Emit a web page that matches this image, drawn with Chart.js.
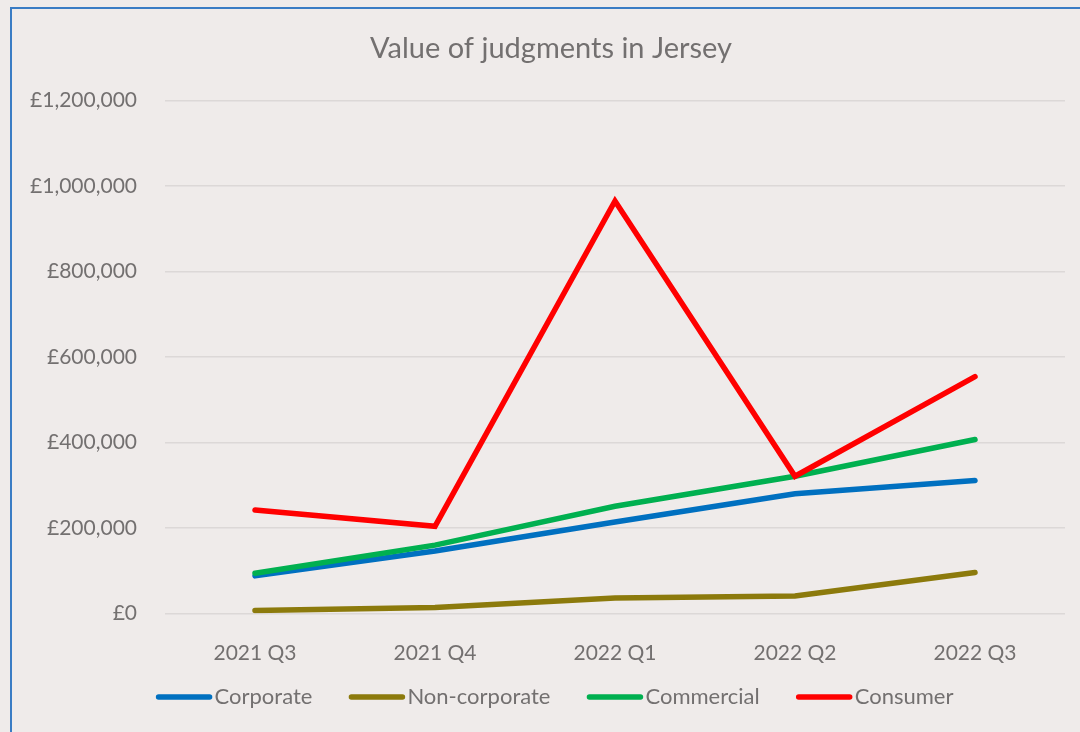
<!DOCTYPE html>
<html>
<head>
<meta charset="utf-8">
<script src="https://cdn.jsdelivr.net/npm/chart.js@4"></script>
<style>
  html, body { margin: 0; padding: 0; background: #efebea; overflow: hidden; }
  #frame { position: absolute; left: 10px; top: 7px; width: 1200px; height: 900px; border: 2px solid #3a7cc4; }
  #wrap { position: absolute; left: 0; top: 0; width: 1106px; height: 732px; }
</style>
</head>
<body>
<div id="frame"></div>
<div id="wrap"><canvas id="chart" width="1106" height="732"></canvas></div>
<script>
var quarters = ["2021 Q3", "2021 Q4", "2022 Q1", "2022 Q2", "2022 Q3"];
var corporate = [88000, 146000, 214000, 280000, 311000];
var nonCorporate = [7000, 14000, 36000, 41000, 96000];
var commercial = [94000, 160000, 251000, 321000, 407000];
var consumer = [242000, 204000, 965000, 321000, 554000];
var yTicks = [0, 200000, 400000, 600000, 800000, 1000000, 1200000];

var textColor = "#737070";
var fontName = "Lato";

// legend drawn by hand so the line samples sit close to their labels
var lineLegend = {
    id: "lineLegend",
    afterDraw: function (chart) {
        var c = chart.ctx;
        var sets = chart.data.datasets;
        c.save();
        c.font = "22px " + fontName;
        var sample = 55, gap = 3, between = 37;
        var total = 0;
        sets.forEach(function (ds, i) {
            total += sample + gap + c.measureText(ds.label).width;
            if (i < sets.length - 1) total += between;
        });
        var x = 555 - total / 2, y = 697;
        sets.forEach(function (ds) {
            c.strokeStyle = ds.borderColor;
            c.lineWidth = 5.5;
            c.lineCap = "round";
            c.beginPath();
            c.moveTo(x + 2, y);
            c.lineTo(x + sample - 2, y);
            c.stroke();
            x += sample + gap;
            c.fillStyle = textColor;
            c.textBaseline = "middle";
            c.textAlign = "left";
            c.fillText(ds.label, x, y);
            x += c.measureText(ds.label).width + between;
        });
        c.restore();
    }
};

function series(label, data, color, order) {
    return {
        label: label,
        data: data,
        borderColor: color,
        backgroundColor: color,
        borderWidth: 5.5,
        borderCapStyle: "round",
        pointRadius: 0,
        tension: 0,
        order: order
    };
}

new Chart(document.getElementById("chart").getContext("2d"), {
    type: "line",
    data: {
        labels: quarters,
        datasets: [
            series("Corporate", corporate, "#0070c0", 4),
            series("Non-corporate", nonCorporate, "#8c7a0c", 3),
            series("Commercial", commercial, "#00b050", 2),
            series("Consumer", consumer, "#ff0000", 1)
        ]
    },
    options: {
        responsive: false,
        animation: false,
        layout: { padding: { left: 12, right: 16, top: 10, bottom: 58.5 } },
        plugins: {
            legend: { display: false },
            tooltip: { enabled: false },
            title: {
                display: true,
                text: "Value of judgments in Jersey",
                color: textColor,
                font: { family: fontName, size: 29, weight: "normal" },
                padding: { top: 21, bottom: 34.7 }
            }
        },
        scales: {
            x: {
                offset: true,
                grid: { display: false },
                border: { display: false },
                ticks: { color: textColor, font: { family: fontName, size: 21 }, padding: 19 },
                afterFit: function (s) { s.height = 60; }
            },
            y: {
                min: 0,
                max: 1200000,
                afterBuildTicks: function (s) { s.ticks = yTicks.map(function (v) { return { value: v }; }); },
                grid: { color: "#dcd8d7", lineWidth: 1.5, drawTicks: false },
                border: { display: false },
                ticks: {
                    color: textColor,
                    font: { family: fontName, size: 21 },
                    padding: 28,
                    callback: function (v) { return "£" + Number(v).toLocaleString("en-GB"); }
                },
                afterFit: function (s) { s.width = 153; }
            },
            // empty right-hand axis, only keeps the plot clear of the right edge
            yRight: {
                position: "right",
                min: 0,
                max: 1200000,
                grid: { display: false },
                border: { display: false },
                ticks: { display: false },
                afterFit: function (s) { s.width = 25; }
            }
        }
    },
    plugins: [lineLegend]
});
</script>
</body>
</html>
